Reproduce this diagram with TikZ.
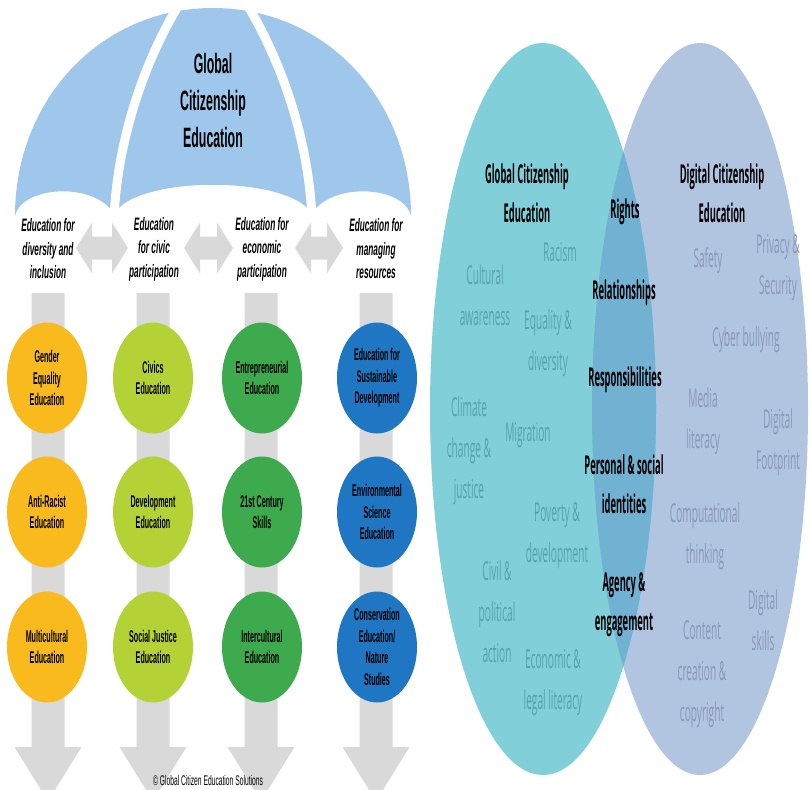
\documentclass[tikz,border=0pt]{standalone}
\usepackage{fontspec}
\usetikzlibrary{shapes.geometric}
\newfontfamily\titlef[FakeStretch=0.44]{Liberation Sans}
\newfontfamily\headf[FakeStretch=0.46]{Liberation Sans}
\newfontfamily\discf[FakeStretch=0.42]{Liberation Sans}
\newfontfamily\copyf[FakeStretch=0.48]{Liberation Sans}
\newfontfamily\vennbf[FakeStretch=0.36]{Open Sans}
\newfontfamily\vennrf[FakeStretch=0.39]{Open Sans}
\definecolor{canopy}{HTML}{9FC7EC}
\definecolor{arrowgray}{HTML}{D9D9D9}
\definecolor{cyellow}{HTML}{F8BA1C}
\definecolor{clime}{HTML}{B4D235}
\definecolor{cgreen}{HTML}{3DAA4E}
\definecolor{cblue}{HTML}{1F76C2}
\definecolor{vleft}{HTML}{80CFD9}
\definecolor{vright}{HTML}{B1C5E1}
\definecolor{vover}{HTML}{71B1D1}
\definecolor{tleft}{HTML}{55A2AD}
\definecolor{tright}{HTML}{8797B8}
\tikzset{
  titletext/.style={font=\titlef\bfseries\fontsize{28}{37}\selectfont, align=center, inner sep=0pt},
  headtext/.style={font=\headf\bfseries\itshape\fontsize{18}{23.5}\selectfont, align=center, inner sep=0pt},
  disc/.style={ellipse, minimum width=80pt, minimum height=111pt, inner sep=0pt, align=center,
    font=\discf\bfseries\fontsize{17}{21.5}\selectfont},
  vhead/.style={font=\vennbf\bfseries\fontsize{26}{39}\selectfont, align=center, inner sep=0pt},
  vl/.style={font=\vennrf\fontsize{26}{41}\selectfont, align=center, inner sep=0pt, text=tleft},
  vr/.style={font=\vennrf\fontsize{26}{41}\selectfont, align=center, inner sep=0pt, text=tright},
  garrow/.style={fill=arrowgray},
}
\begin{document}
\begin{tikzpicture}[x=1pt,y=-1pt]
\useasboundingbox (0,0) rectangle (810,789);
\clip (0,0) rectangle (810,789);
\fill[white] (0,0) rectangle (810,789);

% ---------- umbrella ----------
\foreach \c in {48,153,261,376}{
  \fill[garrow] ({\c-16.5},293) -- ({\c+16.5},293) -- ({\c+16.5},747) -- ({\c+33.5},747)
     -- (\c,801) -- ({\c-33.5},747) -- ({\c-16.5},747) -- cycle;
}
\foreach \a/\b in {76/128,184/233,295/343}{
  \fill[garrow] (\a,248) -- ({\a+16},222.5) -- ({\a+16},236.5) -- ({\b-16},236.5) -- ({\b-16},222.5)
     -- (\b,248) -- ({\b-16},273.5) -- ({\b-16},259.5) -- ({\a+16},259.5) -- ({\a+16},273.5) -- cycle;
}
\fill[canopy] (15,216) .. controls (15,100) and (100,8) .. (213,8)
  .. controls (326,8) and (411,100) .. (411,216)
  .. controls (404,185) and (330,182) .. (312,214)
  .. controls (290,175) and (136,175) .. (114,214)
  .. controls (96,182) and (22,185) .. (15,216) -- cycle;
\draw[white, line width=9pt] (183,-2) .. controls (150,50) and (118,130) .. (114,218);
\draw[white, line width=9pt] (243,-2) .. controls (276,50) and (308,130) .. (312,218);

\node[titletext] (gce) at (213,100) {Global\\Citizenship\\Education};

\node[headtext] (h1) at (48,249) {Education for\\diversity and\\inclusion};
\node[headtext] (h2) at (154,249) {Education\\for civic\\participation};
\node[headtext] (h3) at (262,249) {Education for\\economic\\participation};
\node[headtext] (h4) at (376,249) {Education for\\managing\\resources};

\node[disc, fill=cyellow] (a1) at (47,378) {Gender\\Equality\\Education};
\node[disc, fill=cyellow] (a2) at (47,512) {Anti-Racist\\Education};
\node[disc, fill=cyellow] (a3) at (47,647) {Multicultural\\Education};
\node[disc, fill=clime] (b1) at (153,378) {Civics\\Education};
\node[disc, fill=clime] (b2) at (153,512) {Development\\Education};
\node[disc, fill=clime] (b3) at (153,647) {Social Justice\\Education};
\node[disc, fill=cgreen] (c1) at (262,378) {Entrepreneurial\\Education};
\node[disc, fill=cgreen] (c2) at (262,512) {21st Century\\Skills};
\node[disc, fill=cgreen] (c3) at (262,647) {Intercultural\\Education};
\node[disc, fill=cblue] (d1) at (377,378) {Education for\\Sustainable\\Development};
\node[disc, fill=cblue] (d2) at (377,512) {Environmental\\Science\\Education};
\node[disc, fill=cblue] (d3) at (377,647) {Conservation\\Education/\\Nature\\Studies};

\node[font=\copyf\fontsize{14}{14}\selectfont, inner sep=0pt] (copy) at (208,780) {© Global Citizen Education Solutions};

% ---------- Venn ----------
\fill[vright] (700,409) ellipse [x radius=108pt, y radius=366pt];
\fill[vleft] (543,409) ellipse [x radius=113pt, y radius=366pt];
\begin{scope}
  \clip (543,409) ellipse [x radius=113pt, y radius=366pt];
  \fill[vover] (700,409) ellipse [x radius=108pt, y radius=366pt];
\end{scope}

\node[vhead] (vg) at (527,193) {Global Citizenship\\Education};
\node[vhead] (vd) at (722,193) {Digital Citizenship\\Education};
\node[vhead] (rights) at (625,212) {Rights};
\node[vhead] (rel) at (624,293) {Relationships};
\node[vhead] (resp) at (625,380) {Responsibilities};
\node[vhead] (pers) at (624,484) {Personal \& social\\identities};
\node[vhead] (agen) at (624,605) {Agency \&\\engagement};

\node[vl] (racism) at (560,252) {Racism};
\node[vl] (cult) at (485,295) {Cultural\\awareness};
\node[vl] (equal) at (548,343) {Equality \&\\diversity};
\node[vl] (clim) at (469,451) {Climate\\change \&\\justice};
\node[vl] (migr) at (528,435) {Migration};
\node[vl] (pov) at (557,536) {Poverty \&\\development};
\node[vl] (civil) at (497,612) {Civil \&\\political\\action};
\node[vl] (econ) at (553,683) {Economic \&\\legal literacy};

\node[vr] (safe) at (708,261) {Safety};
\node[vr] (priv) at (778,268) {Privacy \&\\Security};
\node[vr] (cyber) at (746,340) {Cyber bullying};
\node[vr] (media) at (703,421) {Media\\literacy};
\node[vr] (foot) at (778,442) {Digital\\Footprint};
\node[vr] (comp) at (705,536) {Computational\\thinking};
\node[vr] (skills) at (763,620) {Digital\\skills};
\node[vr] (cont) at (702,674) {Content\\creation \&\\copyright};
\end{tikzpicture}
\end{document}
